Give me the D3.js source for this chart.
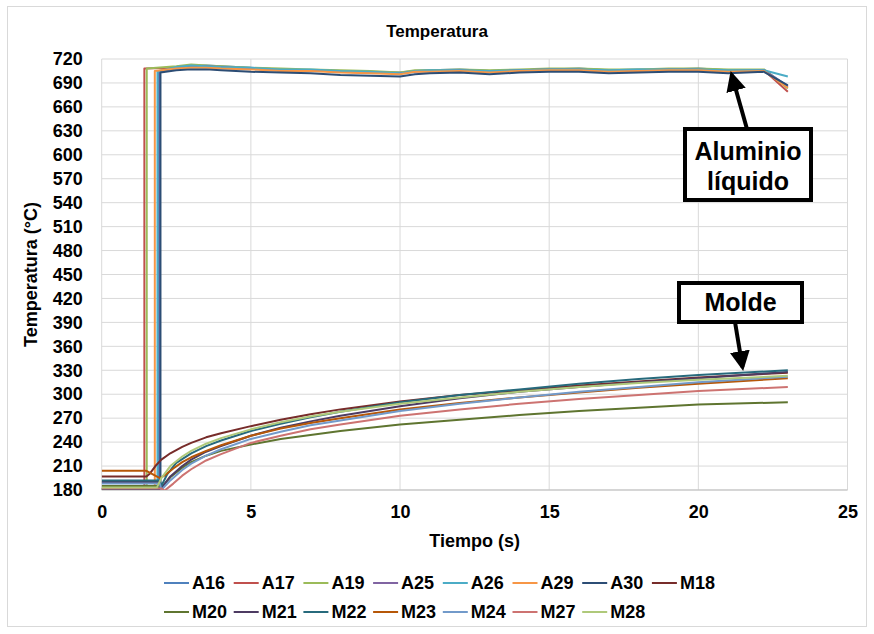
<!DOCTYPE html>
<html>
<head>
<meta charset="utf-8">
<script src="https://cdn.jsdelivr.net/npm/d3@7"></script>
<style>
  body { margin: 0; background: #fff; }
  svg text { font-family: "Liberation Sans", Arial, sans-serif; font-weight: bold; fill: #000; }
</style>
</head>
<body>
<div id="chart"></div>
<script>
// --- data ---
let xTicks = [0, 5, 10, 15, 20, 25]
let yTicks = d3.range(180, 721, 30)

let seriesNames = ['A16', 'A17', 'A19', 'A25', 'A26', 'A29', 'A30',
  'M18', 'M20', 'M21', 'M22', 'M23', 'M24', 'M27', 'M28']
let seriesColors = ['#4F81BD', '#C0504D', '#9BBB59', '#8064A2', '#4BACC6', '#F79646', '#2C4D75',
  '#772C2A', '#5F7530', '#4D3B62', '#276A7C', '#B65708', '#729ACA', '#CD7371', '#AFC97A']

// aluminio (A) series: flat start, step, then liquid plateau
let alTimes = [2.5, 3, 3.5, 4, 5, 6, 7, 8, 9, 10, 10.5, 11, 12, 13, 14, 15, 16, 17, 18, 19, 20, 21, 22.2, 23]
let alStep = { A16: 1.92, A17: 1.43, A19: 1.51, A25: 1.95, A26: 1.87, A29: 1.78, A30: 1.97 }
let alBase = { A16: 181, A17: 181, A19: 181, A25: 181, A26: 182, A29: 182, A30: 181 }
let alPeak = { A16: 705, A17: 708, A19: 708, A25: 704, A26: 704, A29: 705, A30: 703 }
let A16 = [710, 712, 712, 711, 709, 707, 706, 705, 704, 703, 705, 706, 707, 705, 706, 707, 708, 706, 707, 707, 708, 706, 706, 686]
let A17 = [709, 711, 711, 710, 708, 706, 706, 704, 703, 702, 705, 705, 706, 704, 706, 707, 707, 705, 706, 707, 707, 705, 706, 679]
let A19 = [711, 713, 712, 711, 709, 708, 707, 706, 705, 703, 706, 706, 707, 706, 707, 708, 708, 707, 707, 708, 708, 707, 707, 683]
let A25 = [709, 711, 711, 710, 708, 706, 706, 704, 703, 702, 704, 705, 706, 704, 706, 707, 707, 705, 706, 707, 707, 705, 706, 685]
let A26 = [710, 712, 711, 710, 709, 707, 707, 705, 704, 702, 705, 706, 706, 705, 706, 707, 707, 706, 707, 707, 707, 706, 706, 698]
let A29 = [708, 709, 709, 708, 707, 705, 705, 703, 702, 701, 704, 704, 705, 703, 705, 706, 706, 704, 705, 706, 706, 704, 705, 684]
let A30 = [706, 707, 707, 706, 704, 703, 702, 700, 699, 698, 701, 702, 703, 701, 703, 704, 704, 702, 703, 704, 704, 702, 704, 687]

// molde (M) series: [time, value] pairs
let M18 = [[0, 197], [1.5, 197], [1.6, 200], [1.8, 210], [2, 218], [2.3, 226], [2.7, 234], [3, 239], [3.5, 246], [4, 251], [5, 260], [6, 268], [7, 275], [8, 281], [10, 291], [12, 299], [14, 305], [16, 311], [18, 316], [20, 321], [23, 327]]
let M20 = [[0, 185], [1.9, 185], [2, 183], [2.3, 196], [2.7, 208], [3, 215], [3.5, 223], [4, 229], [5, 237], [6, 244], [7, 249], [8, 254], [10, 262], [12, 268], [14, 274], [16, 279], [18, 283], [20, 287], [23, 290]]
let M21 = [[0, 190], [1.95, 190], [2, 182], [2.3, 197], [2.7, 210], [3, 218], [3.5, 228], [4, 235], [5, 248], [6, 258], [7, 266], [8, 273], [10, 285], [12, 295], [14, 303], [16, 309], [18, 315], [20, 320], [23, 328]]
let M22 = [[0, 192], [1.95, 192], [2, 185], [2.2, 200], [2.5, 214], [3, 226], [3.5, 235], [4, 242], [5, 254], [6, 263], [7, 271], [8, 278], [10, 290], [12, 299], [14, 306], [16, 313], [18, 319], [20, 324], [23, 330]]
let M23 = [[0, 204], [1.5, 204], [1.7, 200], [1.95, 195], [2.1, 198], [2.4, 207], [2.7, 215], [3, 221], [3.5, 229], [4, 236], [5, 248], [6, 257], [7, 264], [8, 270], [10, 281], [12, 289], [14, 296], [16, 302], [18, 308], [20, 313], [23, 320]]
let M24 = [[0, 188], [1.95, 188], [2, 180], [2.3, 192], [2.7, 205], [3, 213], [3.5, 223], [4, 231], [5, 244], [6, 253], [7, 261], [8, 267], [10, 279], [12, 288], [14, 296], [16, 303], [18, 309], [20, 315], [23, 322]]
let M27 = [[0, 182], [2, 182], [2.1, 179], [2.4, 188], [2.7, 198], [3, 206], [3.5, 217], [4, 225], [5, 239], [6, 248], [7, 256], [8, 262], [10, 273], [12, 281], [14, 288], [16, 294], [18, 299], [20, 304], [23, 309]]
let M28 = [[0, 183], [1.85, 183], [2, 195], [2.3, 210], [2.7, 222], [3, 229], [3.5, 238], [4, 245], [5, 256], [6, 265], [7, 272], [8, 278], [10, 288], [12, 296], [14, 303], [16, 309], [18, 314], [20, 318], [23, 323]]

let alValues = { A16, A17, A19, A25, A26, A29, A30 }
let moldeValues = { M18, M20, M21, M22, M23, M24, M27, M28 }

function seriesPoints(name) {
  if (alValues[name]) {
    let pts = [[0, alBase[name]], [alStep[name], alBase[name]], [alStep[name], alPeak[name]]]
    alValues[name].forEach((v, i) => pts.push([alTimes[i], v]))
    return pts
  }
  return moldeValues[name]
}

// --- layout ---
let width = 874, height = 634
let plot = { left: 101.7, right: 847.5, top: 59, bottom: 490 }

let svg = d3.select('#chart').append('svg')
  .attr('width', width)
  .attr('height', height)

svg.append('rect')
  .attr('x', 7.5).attr('y', 6.5)
  .attr('width', 859).attr('height', 620)
  .attr('fill', '#fff')
  .attr('stroke', '#d9d9d9')

let xScale = d3.scaleLinear().domain([0, 25]).range([plot.left, plot.right])
let yScale = d3.scaleLinear().domain([180, 720]).range([plot.bottom, plot.top])

// gridlines
svg.append('g').selectAll('line')
  .data(yTicks)
  .enter().append('line')
  .attr('x1', plot.left).attr('x2', plot.right)
  .attr('y1', d => yScale(d)).attr('y2', d => yScale(d))
  .attr('stroke', '#d9d9d9').attr('stroke-width', 1)

svg.append('g').selectAll('line')
  .data(xTicks)
  .enter().append('line')
  .attr('x1', d => xScale(d)).attr('x2', d => xScale(d))
  .attr('y1', plot.top).attr('y2', plot.bottom)
  .attr('stroke', '#d9d9d9').attr('stroke-width', 1)

svg.append('line')
  .attr('x1', plot.left).attr('x2', plot.right)
  .attr('y1', plot.bottom).attr('y2', plot.bottom)
  .attr('stroke', '#bfbfbf').attr('stroke-width', 1)

// axes
let xAxis = d3.axisBottom(xScale).tickValues(xTicks).tickSize(0).tickPadding(15)
let yAxis = d3.axisLeft(yScale).tickValues(yTicks).tickSize(0).tickPadding(19)

let xg = svg.append('g').attr('transform', `translate(0, ${plot.bottom})`).call(xAxis)
let yg = svg.append('g').attr('transform', `translate(${plot.left}, 0)`).call(yAxis)
xg.select('.domain').remove()
yg.select('.domain').remove()
xg.selectAll('text').attr('font-size', '18px').attr('font-family', '"Liberation Sans", Arial, sans-serif').attr('font-weight', 'bold')
yg.selectAll('text').attr('font-size', '18px').attr('font-family', '"Liberation Sans", Arial, sans-serif').attr('font-weight', 'bold')

svg.append('text')
  .attr('x', 437).attr('y', 37)
  .attr('text-anchor', 'middle')
  .attr('font-size', '17px')
  .text('Temperatura')

svg.append('text')
  .attr('x', (plot.left + plot.right) / 2).attr('y', 547)
  .attr('text-anchor', 'middle')
  .attr('font-size', '18px')
  .text('Tiempo (s)')

svg.append('text')
  .attr('transform', `translate(37, ${(plot.top + plot.bottom) / 2}) rotate(-90)`)
  .attr('text-anchor', 'middle')
  .attr('font-size', '18px')
  .text('Temperatura (°C)')

// lines
svg.append('clipPath').attr('id', 'plotclip')
  .append('rect')
  .attr('x', plot.left).attr('y', plot.top - 5)
  .attr('width', plot.right - plot.left).attr('height', plot.bottom - plot.top + 5)

let line = d3.line()
  .x(d => xScale(d[0]))
  .y(d => yScale(d[1]))

let main_plot = svg.append('g').attr('clip-path', 'url(#plotclip)')
seriesNames.forEach((name, i) => {
  main_plot.append('path')
    .datum(seriesPoints(name))
    .attr('d', line)
    .attr('fill', 'none')
    .attr('stroke', seriesColors[i])
    .attr('stroke-width', 2)
    .attr('stroke-linejoin', 'round')
})

// annotations
let defs = svg.append('defs')
defs.append('marker')
  .attr('id', 'arrowhead')
  .attr('viewBox', '0 0 10 10')
  .attr('refX', 8).attr('refY', 5)
  .attr('markerWidth', 5).attr('markerHeight', 5)
  .attr('orient', 'auto')
  .append('path')
  .attr('d', 'M0,0 L10,5 L0,10 Z')
  .attr('fill', '#000')

function callout(box, lines, from, to) {
  let g = svg.append('g')
  g.append('line')
    .attr('x1', from[0]).attr('y1', from[1])
    .attr('x2', to[0]).attr('y2', to[1])
    .attr('stroke', '#000').attr('stroke-width', 4)
    .attr('marker-end', 'url(#arrowhead)')
  g.append('rect')
    .attr('x', box.x).attr('y', box.y)
    .attr('width', box.w).attr('height', box.h)
    .attr('fill', '#fff')
    .attr('stroke', '#000').attr('stroke-width', 4)
  lines.forEach((t, i) => {
    g.append('text')
      .attr('x', box.x + box.w / 2)
      .attr('y', box.y + box.pad + i * 30)
      .attr('text-anchor', 'middle')
      .attr('dominant-baseline', 'central')
      .attr('font-size', '25px')
      .text(t)
  })
}

callout({ x: 685, y: 129, w: 126, h: 71, pad: 22 }, ['Aluminio', 'líquido'],
  [747, 129], [xScale(21.12), yScale(700)])
callout({ x: 679, y: 283, w: 123, h: 39, pad: 19 }, ['Molde'],
  [735, 322], [xScale(21.48), yScale(334)])

// legend
let legend = svg.append('g').attr('class', 'legend')
seriesNames.forEach((name, i) => {
  let row = i < 8 ? 0 : 1
  let col = i < 8 ? i : i - 8
  let gx = 164 + col * 69.7
  let gy = 583 + row * 29
  legend.append('line')
    .attr('x1', gx).attr('x2', gx + 25)
    .attr('y1', gy).attr('y2', gy)
    .attr('stroke', seriesColors[i]).attr('stroke-width', 2)
  legend.append('text')
    .attr('x', gx + 28).attr('y', gy)
    .attr('dominant-baseline', 'central')
    .attr('font-size', '18px')
    .text(name)
})
</script>
</body>
</html>
